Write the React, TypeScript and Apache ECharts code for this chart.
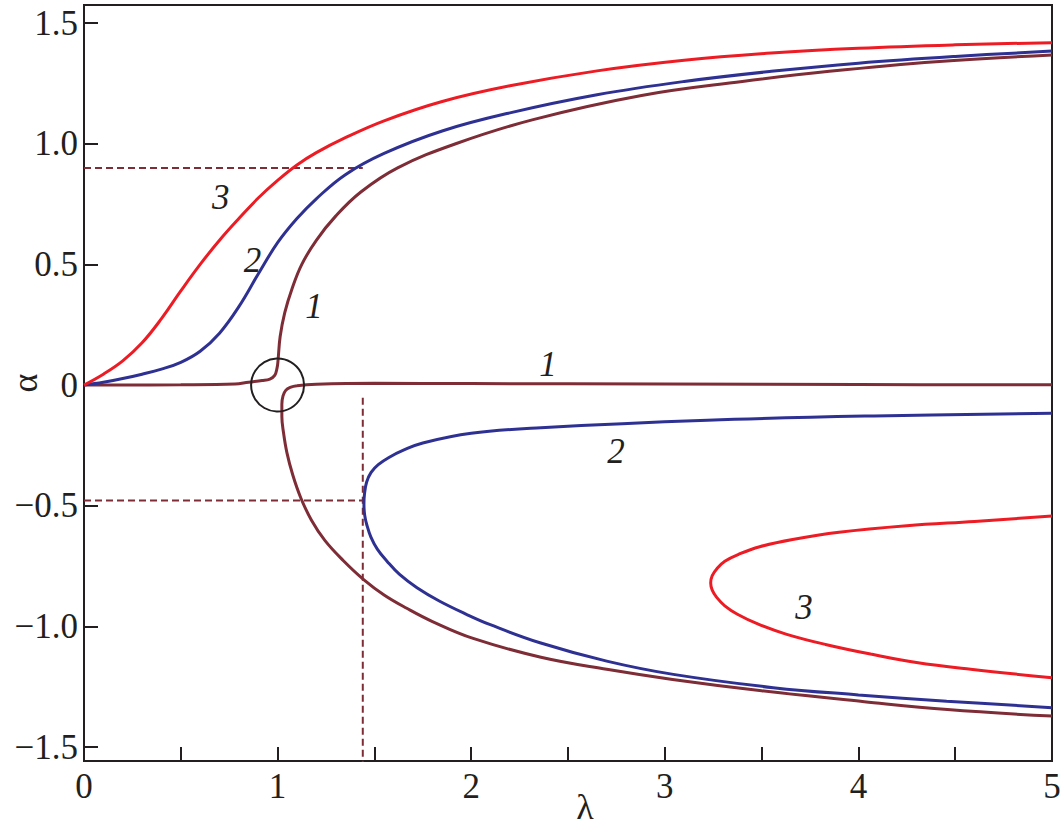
import React, { useEffect, useRef } from "react";
import * as echarts from "echarts";

// λ, α pairs
const curve1Upper: number[][] = [
  [0, 0], [0.5, 0.001], [0.78, 0.004], [0.85, 0.012], [0.92, 0.019], [0.96, 0.025], [0.985, 0.04],
  [0.997, 0.07], [1.002, 0.1], [1.013, 0.2], [1.037, 0.3], [1.075, 0.4], [1.125, 0.5], [1.2, 0.6],
  [1.3, 0.7], [1.43, 0.8], [1.62, 0.9], [1.92, 1.0], [2.32, 1.1], [2.88, 1.2], [3.4, 1.258],
  [3.85, 1.3], [4.4, 1.34], [5, 1.368],
];
const curve1Lower: number[][] = [
  [5, -1.372], [4.46, -1.345], [4.03, -1.312], [3.5, -1.267], [3.04, -1.22], [2.7, -1.178],
  [2.36, -1.128], [2.01, -1.05], [1.8, -0.98], [1.667, -0.925], [1.55, -0.87], [1.443, -0.805],
  [1.34, -0.728], [1.245, -0.645], [1.175, -0.56], [1.12, -0.468], [1.078, -0.372], [1.048, -0.28],
  [1.031, -0.2], [1.022, -0.13], [1.022, -0.08], [1.028, -0.045], [1.042, -0.022], [1.065, -0.01],
  [1.1, -0.003], [1.2, 0.003], [1.5, 0.007], [2, 0.006], [3, 0.004], [4, 0.002], [5, 0.001],
];
const curve2Upper: number[][] = [
  [0, 0], [0.1, 0.012], [0.2, 0.027], [0.3, 0.045], [0.4, 0.066], [0.5, 0.094], [0.6, 0.14],
  [0.7, 0.215], [0.8, 0.325], [0.9, 0.46], [1.0, 0.59], [1.1, 0.69], [1.2, 0.772], [1.35, 0.872],
  [1.55, 0.96], [1.85, 1.053], [2.2, 1.128], [2.65, 1.203], [3.1, 1.258], [3.55, 1.3], [4.0, 1.334],
  [4.5, 1.362], [5, 1.384],
];
const curve2Lower: number[][] = [
  [5, -0.117], [4.08, -0.128], [3.22, -0.146], [2.36, -0.177], [2.0, -0.2], [1.75, -0.24],
  [1.65, -0.27], [1.575, -0.3], [1.52, -0.33], [1.483, -0.362], [1.46, -0.402], [1.449, -0.45],
  [1.446, -0.494], [1.45, -0.54], [1.461, -0.58], [1.482, -0.63], [1.515, -0.68], [1.565, -0.73],
  [1.63, -0.785], [1.72, -0.84], [1.835, -0.895], [1.975, -0.95], [2.095, -0.992], [2.355, -1.068],
  [2.7, -1.144], [3.044, -1.199], [3.56, -1.254], [4.0, -1.284], [4.456, -1.31], [5, -1.337],
];
const curve3Upper: number[][] = [
  [0, 0], [0.1, 0.045], [0.2, 0.1], [0.3, 0.175], [0.4, 0.275], [0.5, 0.39], [0.6, 0.5], [0.7, 0.6],
  [0.8, 0.69], [0.9, 0.775], [1.0, 0.848], [1.1, 0.912], [1.2, 0.963], [1.35, 1.025], [1.55, 1.095],
  [1.85, 1.175], [2.2, 1.24], [2.65, 1.302], [3.1, 1.346], [3.55, 1.376], [4.0, 1.396], [4.5, 1.41],
  [5, 1.419],
];
const curve3Lower: number[][] = [
  [5, -0.543], [4.6, -0.565], [4.25, -0.583], [3.9, -0.61], [3.66, -0.64], [3.49, -0.67],
  [3.385, -0.7], [3.31, -0.73], [3.27, -0.76], [3.245, -0.79], [3.237, -0.82], [3.245, -0.85],
  [3.268, -0.88], [3.31, -0.915], [3.375, -0.95], [3.48, -0.99], [3.63, -1.033], [3.83, -1.075],
  [4.07, -1.116], [4.3, -1.15], [4.58, -1.178], [5, -1.213],
];
const guideUpper: number[][] = [[0, 0.9], [1.44, 0.9]];
const guideLower: number[][] = [[0, -0.478], [1.44, -0.478]];
const guideVertical: number[][] = [[1.44, -0.053], [1.44, -1.6]];
const circleMark: number[][] = [[1.0, 0.0]];
const curveLabels = [
  { name: "3", value: [0.706, 0.776] },
  { name: "2", value: [0.87, 0.517] },
  { name: "1", value: [1.188, 0.327] },
  { name: "1", value: [2.397, 0.087] },
  { name: "2", value: [2.748, -0.274] },
  { name: "3", value: [3.719, -0.923] },
];
const xTicks = [0.5, 1, 1.5, 2, 2.5, 3, 3.5, 4, 4.5];
const xLabels = [0, 1, 2, 3, 4, 5];
const yTicks = [-1.5, -1, -0.5, 0, 0.5, 1, 1.5];

const RED = "#ED1C24";
const BLUE = "#2E3192";
const MAROON = "#7E2C36";
const INK = "#231F20";
const FONT = "'Liberation Serif', 'Times New Roman', serif";

function curve(data: number[][], color: string) {
  return {
    type: "line",
    data,
    smooth: 0.4,
    showSymbol: false,
    symbol: "none",
    lineStyle: { color, width: 3 },
    z: 3,
  };
}
function guide(data: number[][]) {
  return {
    type: "line",
    data,
    showSymbol: false,
    symbol: "none",
    lineStyle: { color: MAROON, width: 2, type: [7, 4] },
    z: 2,
  };
}

export default function App() {
  const ref = useRef<HTMLDivElement>(null);
  useEffect(() => {
    document.body.style.margin = "0";
    if (!ref.current) return;
    const chart = echarts.init(ref.current, undefined, { renderer: "svg" });
    chart.setOption({
      animation: false,
      grid: {
        left: 84, right: 11, top: 5, bottom: 68,
        containLabel: false, outerBoundsMode: "none",
        show: true, borderColor: INK, borderWidth: 2,
      },
      xAxis: {
        type: "value",
        min: 0,
        max: 5,
        name: "λ",
        nameLocation: "middle",
        nameGap: 28,
        nameMoveOverlap: false,
        nameTextStyle: { fontFamily: FONT, fontSize: 36, color: INK, padding: [0, 0, 0, 34] },
        axisLine: { show: true, onZero: false, lineStyle: { color: INK, width: 2 } },
        axisTick: { show: true, inside: true, length: 14, customValues: xTicks, lineStyle: { color: INK, width: 2 } },
        axisLabel: { customValues: xLabels, margin: 8, fontFamily: FONT, fontSize: 35, color: INK, formatter: (v: number) => String(v) },
        splitLine: { show: false },
      },
      yAxis: {
        type: "value",
        min: -1.558,
        max: 1.575,
        name: "α",
        nameLocation: "middle",
        nameGap: 41,
        nameRotate: 90,
        nameMoveOverlap: false,
        nameTextStyle: { fontFamily: FONT, fontSize: 36, color: INK },
        axisLine: { show: true, onZero: false, lineStyle: { color: INK, width: 2 } },
        axisTick: { show: true, inside: true, length: 14, customValues: yTicks, lineStyle: { color: INK, width: 2 } },
        axisLabel: {
          customValues: yTicks,
          margin: 6,
          fontFamily: FONT,
          fontSize: 35,
          color: INK,
          formatter: (v: number) => (Math.abs(v) < 1e-9 ? "0" : v.toFixed(1).replace("-", "−")),
        },
        splitLine: { show: false },
      },
      series: [
        guide(guideUpper),
        guide(guideLower),
        guide(guideVertical),
        curve(curve1Upper, MAROON),
        curve(curve1Lower, MAROON),
        curve(curve2Upper, BLUE),
        curve(curve2Lower, BLUE),
        curve(curve3Upper, RED),
        curve(curve3Lower, RED),
        {
          type: "scatter",
          data: circleMark,
          symbol: "circle",
          symbolSize: 53,
          itemStyle: { color: "rgba(0,0,0,0)", borderColor: INK, borderWidth: 2, opacity: 1 },
          z: 5,
        },
        {
          type: "scatter",
          data: curveLabels,
          symbol: "circle",
          symbolSize: 2,
          itemStyle: { color: "rgba(0,0,0,0)", opacity: 1 },
          label: {
            show: true,
            position: "inside",
            formatter: "{b}",
            fontFamily: FONT,
            fontStyle: "italic",
            fontSize: 35,
            color: INK,
            opacity: 1,
          },
          z: 6,
        },
      ],
    });
    return () => chart.dispose();
  }, []);
  return <div ref={ref} style={{ width: 1063, height: 829 }} />;
}
